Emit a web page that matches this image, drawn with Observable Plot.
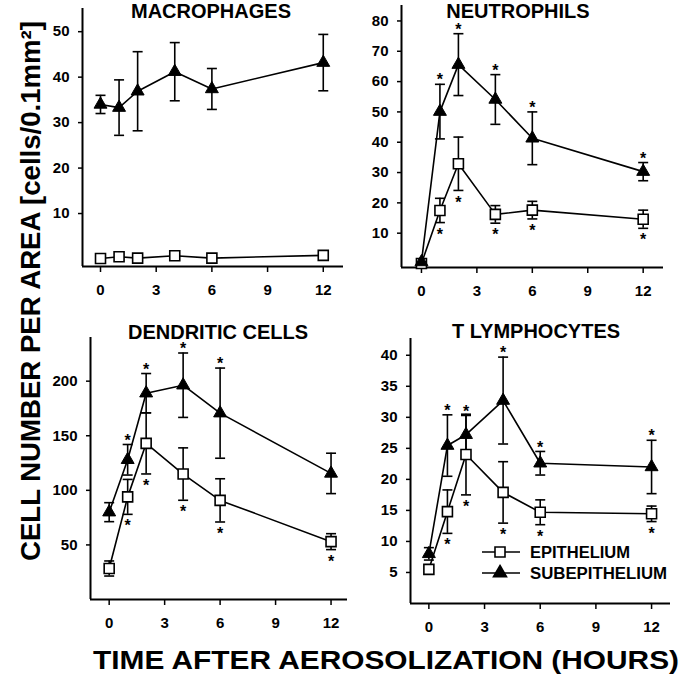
<!DOCTYPE html>
<html><head><meta charset="utf-8">
<script src="https://cdn.jsdelivr.net/npm/d3@7"></script>
<script src="https://cdn.jsdelivr.net/npm/@observablehq/plot@0.6"></script>
<style>
body{margin:0;background:#fff;}
#wrap{position:relative;width:685px;height:679px;overflow:hidden;background:#fff;font-family:"Liberation Sans",Arial,sans-serif;}
#wrap > svg{position:absolute;}
#wrap svg text{font-weight:bold;}
</style></head><body><div id="wrap"></div>
<script>
// ---- data ----
const times = [0, 1, 2, 4, 6, 12];
const xTicks = [0, 3, 6, 9, 12];
const panelTitles = ["MACROPHAGES", "NEUTROPHILS", "DENDRITIC CELLS", "T LYMPHOCYTES"];
const seriesNames = ["EPITHELIUM", "SUBEPITHELIUM"];
const yLabel = "CELL NUMBER PER AREA [cells/0.1mm²]";
const xLabel = "TIME AFTER AEROSOLIZATION (HOURS)";

const macEpi    = [0.1, 0.5, 0.2, 0.7, 0.2, 0.8];
const macEpiErr = [0.2, 0.2, 0.2, 0.2, 0.2, 0.2];
const macSub    = [34, 33.3, 36.9, 41.2, 37.4, 43.2];
const macSubErr = [2, 6.1, 8.7, 6.4, 4.5, 6.2];
const macSigEpi = [];
const macSigSub = [];
const macYTicks = [10, 20, 30, 40, 50];

const neuEpi    = [0, 17.5, 32.9, 16.2, 17.6, 14.6];
const neuEpiErr = [0.5, 4, 8.8, 2.9, 2.9, 3];
const neuSub    = [0.5, 50.1, 65.6, 54.1, 41.3, 30.3];
const neuSubErr = [0.5, 9, 10.2, 8.2, 8.7, 3];
const neuSigEpi = [1, 2, 4, 6, 12];
const neuSigSub = [1, 2, 4, 6, 12];
const neuYTicks = [10, 20, 30, 40, 50, 60, 70, 80];

const denEpi    = [28.4, 94, 143, 114.9, 90.8, 53];
const denEpiErr = [6.9, 16, 28, 24, 19.8, 7.3];
const denSub    = [80, 128, 189, 196.3, 170.7, 115.5];
const denSubErr = [8.7, 14, 18, 29.5, 41.3, 18.5];
const denSigEpi = [1, 2, 4, 6, 12];
const denSigSub = [1, 2, 4, 6];
const denYTicks = [50, 100, 150, 200];

const tlyEpi    = [5.5, 14.8, 24, 17.9, 14.7, 14.45];
const tlyEpiErr = [0.5, 3.5, 6.5, 4.95, 2, 1.25];
const tlySub    = [8, 25.45, 27.2, 32.7, 22.6, 22];
const tlySubErr = [1, 4.95, 3.1, 7, 1.9, 4.3];
const tlySigEpi = [1, 2, 4, 6, 12];
const tlySigSub = [1, 2, 4, 6, 12];
const tlyYTicks = [5, 10, 15, 20, 25, 30, 35, 40];

// ---- layout of the panels ----
const panels = [
  {title: panelTitles[0], epi: macEpi, epiErr: macEpiErr, sub: macSub, subErr: macSubErr, sigEpi: macSigEpi, sigSub: macSigSub, yTicks: macYTicks,
   xDomain: [-0.97, 13.09], yDomain: [-1.65, 55.1], left: 0, top: 0, width: 345, height: 305, m: [8, 2, 39, 82], titleX: 211, titleY: 18},
  {title: panelTitles[1], epi: neuEpi, epiErr: neuEpiErr, sub: neuSub, subErr: neuSubErr, sigEpi: neuSigEpi, sigSub: neuSigSub, yTicks: neuYTicks,
   xDomain: [-1.08, 13.1], yDomain: [-1.32, 85.1], left: 345, top: 0, width: 340, height: 305, m: [5, 22, 38, 56], titleX: 518, titleY: 18},
  {title: panelTitles[2], epi: denEpi, epiErr: denEpiErr, sub: denSub, subErr: denSubErr, sigEpi: denSigEpi, sigSub: denSigSub, yTicks: denYTicks,
   xDomain: [-1.01, 12.89], yDomain: [0, 240], left: 0, top: 315, width: 350, height: 330, m: [22, 3, 46, 90], titleX: 218, titleY: 339},
  {title: panelTitles[3], epi: tlyEpi, epiErr: tlyEpiErr, sub: tlySub, subErr: tlySubErr, sigEpi: tlySigEpi, sigSub: tlySigSub, yTicks: tlyYTicks,
   xDomain: [-0.99, 13.02], yDomain: [0, 42.7], left: 345, top: 315, width: 340, height: 330, m: [23, 15, 42, 65], titleX: 536, titleY: 338}
];

const capSymbol = {draw(ctx, size) { const w = Math.sqrt(size); ctx.moveTo(-w / 2, 0); ctx.lineTo(w / 2, 0); }};
const wrap = document.getElementById("wrap");
const SW = 1.6;
const tickFont = {fontSize: 15, fontWeight: "bold"};

for (const p of panels) {
  const epi = times.map((t, i) => ({t, v: p.epi[i], err: p.epiErr[i]}));
  const sub = times.map((t, i) => ({t, v: p.sub[i], err: p.subErr[i]}));
  const all = epi.concat(sub);
  const starEpi = epi.filter(d => p.sigEpi.includes(d.t));
  const starSub = sub.filter(d => p.sigSub.includes(d.t));
  const chart = Plot.plot({
    width: p.width, height: p.height,
    marginTop: p.m[0], marginRight: p.m[1], marginBottom: p.m[2], marginLeft: p.m[3],
    x: {domain: p.xDomain},
    y: {domain: p.yDomain},
    style: {fontFamily: "'Liberation Sans', Arial, sans-serif", fontSize: "15px", fontWeight: "bold", background: "transparent", color: "black", overflow: "visible"},
    marks: [
      Plot.axisX({ticks: xTicks, tickSize: 6, tickPadding: 12, label: null, strokeWidth: 1.5, ...tickFont}),
      Plot.axisY({ticks: p.yTicks, tickSize: 4, tickPadding: 9, label: null, strokeWidth: 1.5, ...tickFont}),
      Plot.ruleX([p.xDomain[0]], {stroke: "black", strokeWidth: 2}),
      Plot.ruleY([p.yDomain[0]], {stroke: "black", strokeWidth: 2}),
      Plot.line(epi, {x: "t", y: "v", stroke: "black", strokeWidth: SW}),
      Plot.line(sub, {x: "t", y: "v", stroke: "black", strokeWidth: SW}),
      Plot.ruleX(all, {x: "t", y1: d => d.v - d.err, y2: d => d.v + d.err, stroke: "black", strokeWidth: SW}),
      Plot.dot(all, {x: "t", y: d => d.v + d.err, symbol: capSymbol, r: 5.64, stroke: "black", strokeWidth: SW}),
      Plot.dot(all, {x: "t", y: d => d.v - d.err, symbol: capSymbol, r: 5.64, stroke: "black", strokeWidth: SW}),
      Plot.dot(epi, {x: "t", y: "v", symbol: "square", r: 5.64, fill: "white", stroke: "black", strokeWidth: SW}),
      Plot.dot(sub, {x: "t", y: "v", symbol: "triangle", r: 4.8, fill: "black", stroke: "black", strokeWidth: 1}),
      Plot.text(starSub, {x: "t", y: d => d.v + d.err, text: () => "*", dy: -4, fontSize: 16, fontWeight: "bold"}),
      Plot.text(starEpi, {x: "t", y: d => d.v - d.err, text: () => "*", dy: 12, fontSize: 16, fontWeight: "bold"})
    ]
  });
  chart.style.left = p.left + "px";
  chart.style.top = p.top + "px";
  wrap.appendChild(chart);
}

// ---- overlay: panel titles, axis titles, legend ----
const ov = d3.select(wrap).append("svg")
  .attr("width", 685).attr("height", 679)
  .style("left", "0px").style("top", "0px").style("pointer-events", "none")
  .style("font-family", "'Liberation Sans', Arial, sans-serif");

for (const p of panels) {
  ov.append("text").attr("x", p.titleX).attr("y", p.titleY)
    .attr("text-anchor", "middle").attr("font-size", 20).attr("font-weight", "bold").text(p.title);
}

ov.append("text")
  .attr("transform", "translate(40,291) rotate(-90)")
  .attr("text-anchor", "middle").attr("font-size", 28).attr("font-weight", "bold")
  .attr("textLength", 540).attr("lengthAdjust", "spacingAndGlyphs")
  .text(yLabel);

ov.append("text")
  .attr("x", 386).attr("y", 669)
  .attr("text-anchor", "middle").attr("font-size", 26).attr("font-weight", "bold")
  .attr("textLength", 586).attr("lengthAdjust", "spacingAndGlyphs")
  .text(xLabel);

// legend
const legRows = [
  {name: seriesNames[0], y: 552, sym: d3.symbolSquare, size: 100, fill: "white", len: 100},
  {name: seriesNames[1], y: 573, sym: d3.symbolTriangle, size: 73, fill: "black", len: 137}
];
for (const r of legRows) {
  ov.append("line").attr("x1", 482).attr("x2", 520).attr("y1", r.y).attr("y2", r.y)
    .attr("stroke", "black").attr("stroke-width", SW);
  ov.append("path").attr("d", d3.symbol(r.sym, r.size)())
    .attr("transform", `translate(500,${r.y})`).attr("fill", r.fill).attr("stroke", "black").attr("stroke-width", SW);
  ov.append("text").attr("x", 530).attr("y", r.y + 6).attr("font-size", 16).attr("font-weight", "bold")
    .attr("textLength", r.len).attr("lengthAdjust", "spacingAndGlyphs").text(r.name);
}
</script></body></html>
